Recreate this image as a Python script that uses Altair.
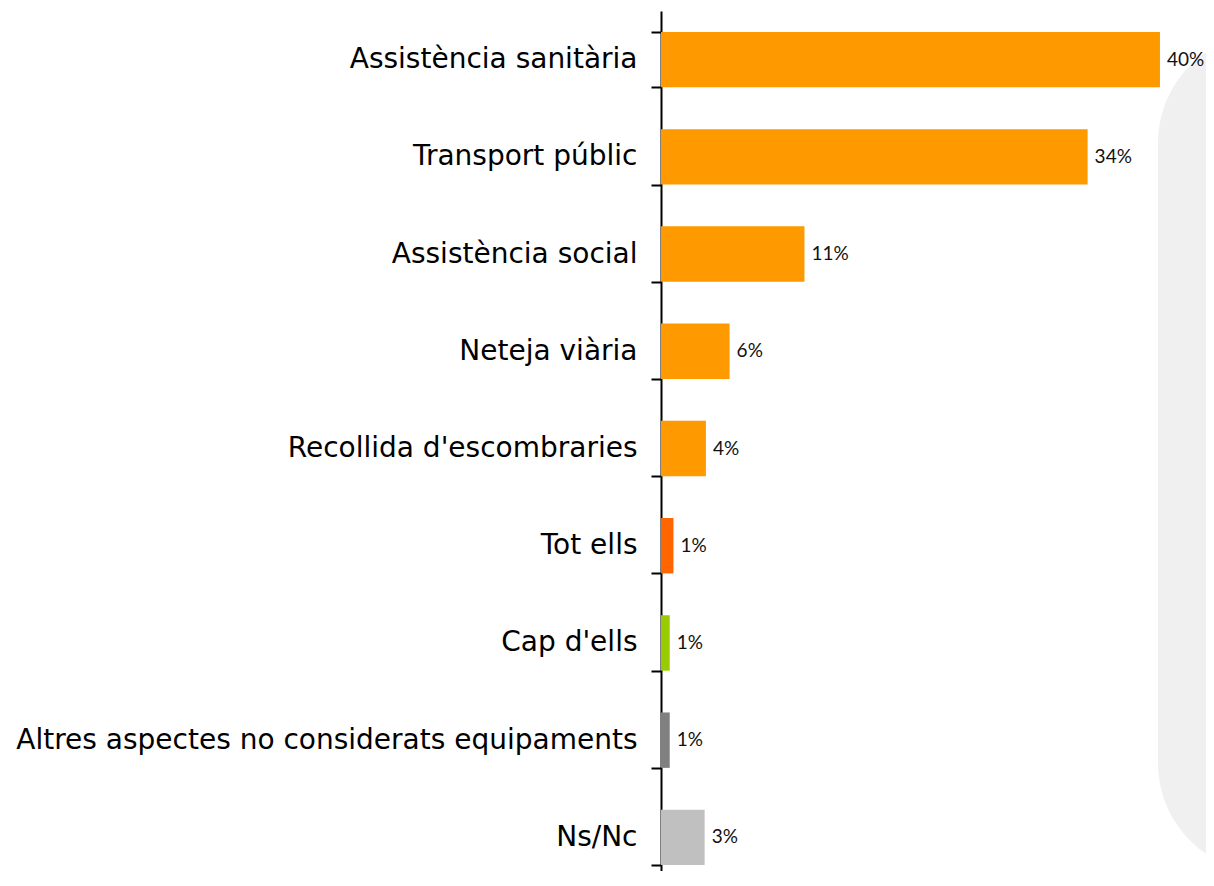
import altair as alt
import pandas as pd

categories = [
    "Assistència sanitària",
    "Transport públic",
    "Assistència social",
    "Neteja viària",
    "Recollida d'escombraries",
    "Tot ells",
    "Cap d'ells",
    "Altres aspectes no considerats equipaments",
    "Ns/Nc",
]
values = [40.0, 34.2, 11.5, 5.5, 3.6, 1.0, 0.7, 0.7, 3.5]
value_labels = ["40%", "34%", "11%", "6%", "4%", "1%", "1%", "1%", "3%"]
colors = ["#FF9900", "#FF9900", "#FF9900", "#FF9900", "#FF9900",
          "#FF6600", "#99CC00", "#808080", "#C0C0C0"]

df = pd.DataFrame({
    "category": categories,
    "value": values,
    "label": value_labels,
    "color": colors,
})

FONT = "DejaVu Sans"

y_enc = alt.Y(
    "category:N",
    sort=categories,
    scale=alt.Scale(range=[0, 875], paddingInner=0.43, paddingOuter=0.215),
    axis=alt.Axis(
        title=None,
        labelFont=FONT,
        labelFontSize=28,
        labelColor="#000000",
        labelPadding=14,
        labelLimit=1000,
        tickSize=10,
        tickWidth=2,
        tickColor="#000000",
        tickBand="extent",
        domainColor="#000000",
        domainWidth=2,
        grid=False,
    ),
)
x_enc = alt.X(
    "value:Q",
    scale=alt.Scale(domain=[0, 43.69], nice=False, zero=True),
    axis=None,
)

# decorative light-grey panel at the right edge of the slide
bg = alt.Chart(pd.DataFrame({"d": [0]})).mark_rect(
    color="#F0F0F0", cornerRadius=110
).encode(
    x=alt.value(497), x2=alt.value(760), y=alt.value(22), y2=alt.value(862)
)

bars = alt.Chart(df).mark_bar().encode(
    y=y_enc,
    x=x_enc,
    color=alt.Color("color:N", scale=None),
)

text = alt.Chart(df).mark_text(
    align="left", baseline="middle", dx=7, font="Lato", fontSize=19, color="#111111"
).encode(
    y=alt.Y("category:N", sort=categories),
    x=alt.X("value:Q"),
    text="label:N",
)

chart = alt.layer(bg, bars, text).properties(
    width=545,
    height=860,
    autosize=alt.AutoSizeParams(type="none"),
    padding={"left": 653, "top": 3, "right": 0, "bottom": 0},
).configure_view(stroke=None)

chart.save("out.html", embed_options={"renderer": "svg", "actions": False})
